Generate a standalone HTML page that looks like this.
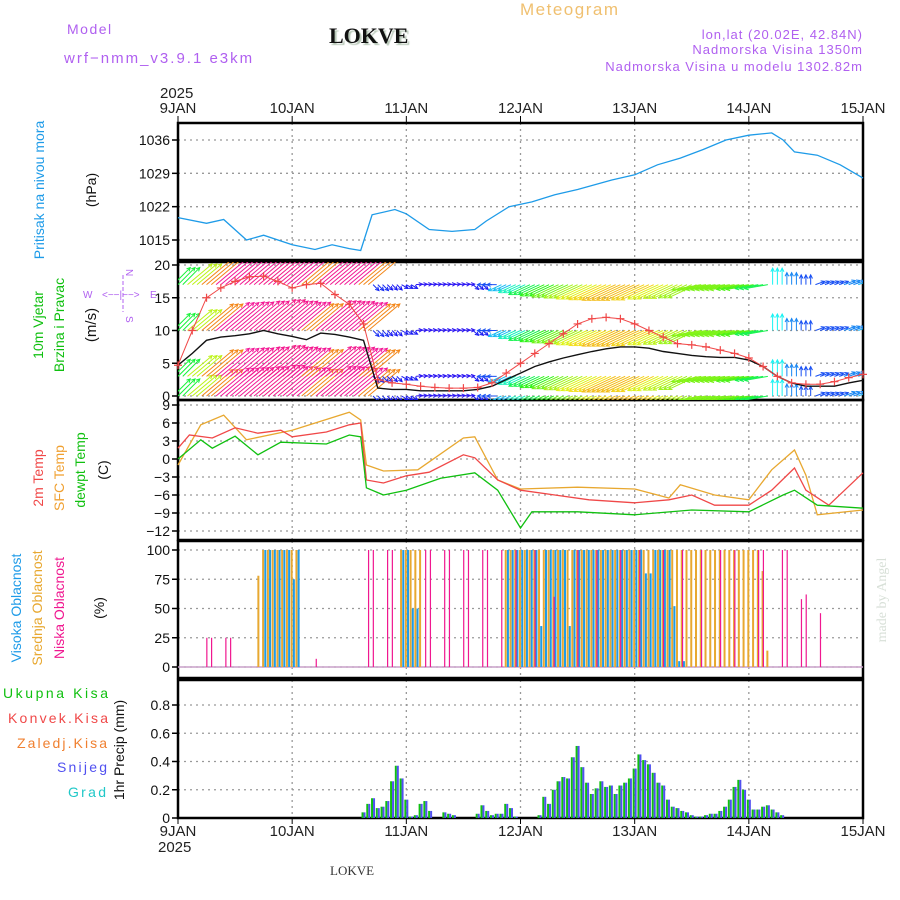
<!DOCTYPE html>
<html><head><meta charset="utf-8"><style>
html,body{margin:0;padding:0;background:#fff;}
svg{display:block;font-family:"Liberation Sans",sans-serif;}
</style></head><body>
<svg id="c" width="900" height="900" viewBox="0 0 900 900" xmlns="http://www.w3.org/2000/svg">
<defs>
<clipPath id="cp2"><rect x="178" y="262" width="685" height="138"/></clipPath>
<clipPath id="cp4"><rect x="178" y="541" width="685" height="137"/></clipPath>
</defs>
<text x="67" y="34" font-size="14" fill="#b060f0" letter-spacing="1.5">Model</text>
<text x="64" y="63" font-size="15" fill="#b060f0" letter-spacing="2">wrf−nmm_v3.9.1 e3km</text>
<text x="329" y="43" font-size="22" font-weight="bold" font-family="Liberation Serif,serif" fill="#111" style="text-shadow:2px 2px 1px #b8c8b8">LOKVE</text>
<text x="520" y="15" font-size="17" fill="#f0c070" letter-spacing="1.5">Meteogram</text>
<text x="863" y="39" font-size="13" fill="#b060f0" text-anchor="end" letter-spacing="1">lon,lat (20.02E, 42.84N)</text>
<text x="863" y="54" font-size="13" fill="#b060f0" text-anchor="end" letter-spacing="1">Nadmorska Visina 1350m</text>
<text x="863" y="71" font-size="13" fill="#b060f0" text-anchor="end" letter-spacing="1">Nadmorska Visina u modelu 1302.82m</text>
<text x="160" y="98" font-size="15" fill="#222">2025</text>
<text x="158" y="852" font-size="15" fill="#222">2025</text>
<text x="330" y="875" font-size="13" fill="#333" font-family="Liberation Serif,serif">LOKVE</text>
<text transform="translate(886,600) rotate(-90)" font-size="14" fill="#d8e0d8" text-anchor="middle" font-family="Liberation Serif,serif">made by Angel</text>

<g>
<text transform="translate(44,190) rotate(-90)" font-size="14" fill="#1e9be8" text-anchor="middle">Pritisak na nivou mora</text>
<text transform="translate(96,190) rotate(-90)" font-size="14" fill="#111" text-anchor="middle">(hPa)</text></g>
<g>
<text transform="translate(43,325) rotate(-90)" font-size="14" fill="#10c010" text-anchor="middle">10m Vjetar</text>
<text transform="translate(64,325) rotate(-90)" font-size="14" fill="#10c010" text-anchor="middle">Brzina i Pravac</text>
<text transform="translate(96,325) rotate(-90)" font-size="15" fill="#111" text-anchor="middle">(m/s)</text></g>
<g fill="#b060f0" font-size="10">
<text x="83" y="298">W</text><text x="150" y="298">E</text>
<text transform="translate(126,269) rotate(90)">N</text><text transform="translate(126,316) rotate(90)">S</text>
<text x="102" y="298">&lt;−−|−−&gt;</text>
<line x1="123" y1="275" x2="123" y2="312" stroke="#b060f0" stroke-dasharray="4 2"/></g>
<g>
<text transform="translate(43,478) rotate(-90)" font-size="14" fill="#f04848" text-anchor="middle">2m Temp</text>
<text transform="translate(64,478) rotate(-90)" font-size="14" fill="#f0a030" text-anchor="middle">SFC Temp</text>
<text transform="translate(85,470) rotate(-90)" font-size="14" fill="#10c010" text-anchor="middle">dewpt Temp</text>
<text transform="translate(108,470) rotate(-90)" font-size="14" fill="#111" text-anchor="middle">(C)</text></g>
<g>
<text transform="translate(21,608) rotate(-90)" font-size="14" fill="#1e9be8" text-anchor="middle">Visoka Oblacnost</text>
<text transform="translate(42,608) rotate(-90)" font-size="14" fill="#e8a830" text-anchor="middle">Srednja Oblacnost</text>
<text transform="translate(64,608) rotate(-90)" font-size="14" fill="#f01890" text-anchor="middle">Niska Oblacnost</text>
<text transform="translate(104,608) rotate(-90)" font-size="14" fill="#111" text-anchor="middle">(%)</text></g>
<g font-size="14">
<text x="3" y="698" fill="#10c010" textLength="105" lengthAdjust="spacing">Ukupna Kisa</text>
<text x="8" y="723" fill="#f04848" textLength="100" lengthAdjust="spacing">Konvek.Kisa</text>
<text x="17" y="748" fill="#f08030" textLength="90" lengthAdjust="spacing">Zaledj.Kisa</text>
<text x="57" y="772" fill="#5050f0" textLength="50" lengthAdjust="spacing">Snijeg</text>
<text x="68" y="797" fill="#20c8c8" textLength="38" lengthAdjust="spacing">Grad</text>
<text transform="translate(124,750) rotate(-90)" fill="#111" text-anchor="middle">1hr Precip (mm)</text></g>
<g id="g"></g>
</svg>
<script>
// ---- data ----
const dayLabels = ["9JAN","10JAN","11JAN","12JAN","13JAN","14JAN","15JAN"];
const presTicks = [1015,1022,1029,1036];
const windTicks = [0,5,10,15,20];
const tempTicks = [-12,-9,-6,-3,0,3,6,9];
const cloudTicks = [0,25,50,75,100];
const precipTicks = [0,0.2,0.4,0.6,0.8];

const presT = [0,0.25,0.4,0.6,0.75,1.0,1.2,1.35,1.5,1.6,1.7,1.9,2.0,2.2,2.4,2.6,2.7,2.9,3.1,3.3,3.5,3.8,4.0,4.2,4.4,4.6,4.8,5.0,5.2,5.3,5.4,5.6,5.8,6.0];
const presV = [1019.7,1018.5,1019.3,1015,1016,1014,1013,1014,1013.2,1012.8,1020.3,1021.4,1020.5,1017.2,1016.8,1017.2,1019,1022,1023,1024.5,1025.6,1027.6,1028.7,1030.8,1032.2,1034,1036,1037,1037.5,1036,1033.5,1032.8,1030.8,1028];

const t2T = [0,0.1,0.3,0.5,0.7,0.9,1.0,1.3,1.5,1.6,1.65,1.8,2.0,2.2,2.5,2.6,2.8,3.0,3.3,3.6,4.0,4.3,4.5,4.7,5.0,5.2,5.4,5.5,5.7,6.0];
const t2V = [1.8,4,3.5,5.2,4.3,4.8,3.7,4.5,5.7,6,-3.5,-4,-2.8,-2.2,0.7,0.2,-3.5,-5.2,-6,-6.8,-7.3,-6.8,-6,-7.7,-7.7,-5.2,-1.5,-5.2,-7.7,-2.3];
const sfcT = [0,0.2,0.4,0.6,1.0,1.5,1.6,1.65,1.8,2.1,2.5,2.6,2.8,3.0,3.5,4.0,4.3,4.4,4.7,5.0,5.2,5.4,5.5,5.6,6.0];
const sfcV = [-1,5.7,7.3,3.2,4.8,7.8,6.5,-1,-2,-1.8,3.5,3.7,-3.5,-5,-4.7,-5,-6.5,-4.3,-6,-6.8,-1.8,1.5,-2.7,-9.3,-8.5];
const dewT = [0,0.2,0.3,0.5,0.7,0.9,1.3,1.5,1.6,1.65,1.8,2.0,2.3,2.6,2.8,3.0,3.1,3.5,4.0,4.5,5.0,5.3,5.4,5.6,6.0];
const dewV = [0,3.2,1.8,3.8,0.7,2.8,2.5,4,3.7,-4.8,-6,-5.2,-3.2,-2.3,-5.2,-11.5,-8.8,-8.8,-9.3,-8.5,-8.8,-6,-5.2,-7.7,-8.2];

// 3-hourly wind (49 entries, 9JAN 00 .. 15JAN 00)
const windSpd = [4.7,6.5,8.5,9,9.2,9.5,10,9.5,9.1,8.6,9.6,9.4,9,8.5,1.2,1,1,0.8,0.8,0.8,0.8,1,1.5,2.5,3.5,4.5,5.2,5.8,6.3,6.8,7.2,7.5,7.5,7.3,6.8,6.5,6.2,6,5.9,5.9,5.5,4.5,3,2,1.5,1.5,1.5,2,2.4];
const windGust = [4.7,10,15,16.5,17.5,18.2,18.3,17.5,16.5,17,17.2,15.5,14,11,2.5,2,1.8,1.5,1.3,1.2,1.2,1.3,2,3.5,5,6.5,8,9.5,11,11.8,12,11.8,11,10,9,8,7.8,7.5,7,6.5,5.8,4.5,3,2,1.8,1.8,2.2,2.8,3.3];
const windDir = [45,40,40,40,40,40,40,40,40,40,40,40,40,40,-45,-45,-30,5,5,5,5,-40,180,205,205,205,205,205,205,205,205,205,205,205,205,205,205,190,190,190,190,190,90,90,90,20,20,20,20];
const barbRows = [17,10,3,0];

// clouds: hour index -> percent
const lowH = [6,7,10,11,29,40,41,44,45,52,53,56,57,60,61,64,65,68,71,75,79,84,88,93,97,102,106,110,114,117,122,123,127,128,131,132,135];
const lowV = [25,25,25,25,7,100,100,100,100,100,100,100,100,100,100,100,100,100,100,100,60,100,100,100,100,100,100,100,100,100,100,100,100,100,58,62,46];
const midH = [17,18,19,20,21,22,23,24,25,47,48,49,50,51,69,70,71,72,73,74,75,76,77,78,79,80,81,82,83,84,85,86,87,88,89,90,91,92,93,94,95,96,97,98,99,100,101,102,103,104,105,106,107,108,109,110,111,112,113,114,115,116,117,118,119,120,121,122,123,124];
const midV = [78,100,100,100,100,100,100,100,100,100,100,100,100,100,100,100,100,100,100,100,100,100,100,100,100,100,100,100,100,100,100,100,100,100,100,100,100,100,100,100,100,100,100,100,100,100,100,100,100,100,100,100,100,100,100,100,100,100,100,100,100,100,100,100,100,100,100,100,82,14,24];
const highH = [18,19,20,21,22,23,24,25,47,48,49,50,69,70,71,72,73,74,75,76,77,78,79,80,81,82,83,84,85,86,87,88,89,90,91,92,93,94,95,96,97,98,99,100,101,102,103,104,105,106];
const highV = [100,100,100,100,100,100,75,100,100,100,50,50,100,100,100,100,100,100,100,35,100,100,100,100,100,35,100,100,100,100,100,100,100,100,100,100,100,100,100,100,100,80,80,100,100,100,100,52,5,5];

// hourly precip starting at hour 39
const precipStart = 39;
const precipV = [0.04,0.1,0.14,0.07,0.08,0.12,0.26,0.37,0.28,0.13,0.01,0.02,0.1,0.12,0.05,0,0,0.04,0.03,0.02,0,0,0,0,0.03,0.09,0.05,0.02,0.03,0.03,0.1,0.07,0.01,0,0,0,0,0.02,0.15,0.1,0.2,0.26,0.29,0.28,0.43,0.51,0.36,0.25,0.17,0.21,0.26,0.22,0.23,0.17,0.23,0.25,0.28,0.35,0.45,0.41,0.38,0.32,0.25,0.23,0.13,0.08,0.07,0.05,0.04,0.02,0.01,0.01,0.02,0.03,0.03,0.05,0.08,0.13,0.22,0.27,0.2,0.13,0.06,0.06,0.08,0.09,0.06,0.04,0.02];
const snowV = precipV;

// ---- drawing ----
const NS="http://www.w3.org/2000/svg", G=document.getElementById('g');
function el(tag,attrs,parent){const e=document.createElementNS(NS,tag);for(const k in attrs)e.setAttribute(k,attrs[k]);(parent||G).appendChild(e);return e;}
const X0=178,X1=863;
const xDay=d=>X0+(X1-X0)*d/6;
const xHour=h=>xDay(h/24);
function lin(d0,d1,r0,r1){return v=>r0+(v-d0)*(r1-r0)/(d1-d0);}
const yP=lin(1036,1015,140,240), yW=lin(0,20,396,265), yT=lin(9,-12,405,531), yC=lin(0,100,667,550), yR=lin(0,0.8,818,705);
const panels=[{t:123,b:260,ticks:presTicks,y:yP,n:'pressure'},{t:262,b:400,ticks:windTicks,y:yW,n:'wind'},{t:400,b:540,ticks:tempTicks,y:yT,n:'temp'},{t:541,b:678,ticks:cloudTicks,y:yC,n:'cloud'},{t:680,b:818,ticks:precipTicks,y:yR,n:'precip'}];
panels.forEach(p=>{
  const g=el('g',{});
  
  
  for(let d=1;d<6;d++){const l=el('line',{x1:xDay(d),x2:xDay(d),y1:p.t,y2:p.b,stroke:'#999','stroke-dasharray':'2 4','stroke-width':1.3},g);}
  p.ticks.forEach(v=>{
    const y=p.y(v);
    const l=el('line',{x1:X0,x2:X1,y1:y,y2:y,stroke:'#999','stroke-dasharray':'2 4','stroke-width':1.3},g);
    
    el('line',{x1:X0-6,x2:X0,y1:y,y2:y,stroke:'#000','stroke-width':1.5},g);
    const t=el('text',{x:X0-8,y:y+5,'font-size':14,'text-anchor':'end',fill:'#111'},g);
    t.textContent=(v<0?'−'+(-v):String(v));
    
  });
  const r=el('rect',{x:X0,y:p.t,width:X1-X0,height:p.b-p.t,fill:'none',stroke:'#000','stroke-width':2.5},g);
  
});
dayLabels.forEach((s,i)=>{
  [[113,'top'],[836,'bottom']].forEach(([y,w])=>{
    const t=el('text',{x:xDay(i),y:y,'font-size':15,'text-anchor':'middle',fill:'#222'});
    t.textContent=s;
    
  });
  el('line',{x1:xDay(i),x2:xDay(i),y1:116,y2:123,stroke:'#000'});
  el('line',{x1:xDay(i),x2:xDay(i),y1:818,y2:824,stroke:'#000'});
});
function poly(ts,vs,yf,color,name,w){
  const pts=ts.map((t,i)=>xDay(t).toFixed(1)+','+yf(vs[i]).toFixed(1)).join(' ');
  const p=el('polyline',{points:pts,fill:'none',stroke:color,'stroke-width':w||1.3});
  
}
poly(presT,presV,yP,'#1e9be8','pressure-line',1.3);
poly(sfcT,sfcV,yT,'#e8a830','sfc-temp-line');
poly(t2T,t2V,yT,'#f04848','2m-temp-line');
poly(dewT,dewV,yT,'#10c010','dewpoint-line');

// wind
const wg=el('g',{'clip-path':'url(#cp2)'});

windSpd.forEach((s,i)=>{
  let hue=270-s*30; if(s>=9)hue=325+(s-9)*5; else if(hue<0)hue+=360;
  if(s>=8.5&&s<9)hue=30;
  const col='hsl('+hue+',90%,52%)';
  const a=windDir[i]*Math.PI/180, L=4.5*s+3;
  for(let k=-1;k<=1;k++){
    const x=xHour(i*3+k);
    barbRows.forEach(r=>{
      const y=yW(r), x2=x+L*Math.cos(a), y2=y-L*Math.sin(a);
      const ln=el('line',{x1:x,y1:y,x2:x2,y2:y2,stroke:col,'stroke-width':1},wg);
      
      const h=4,b1=a+Math.PI*0.85,b2=a-Math.PI*0.85;
      el('polyline',{points:`${x2+h*Math.cos(b1)},${y2-h*Math.sin(b1)} ${x2},${y2} ${x2+h*Math.cos(b2)},${y2-h*Math.sin(b2)}`,fill:'none',stroke:col,'stroke-width':1},wg);
    });
  }
});
const wt=windSpd.map((_,i)=>i/8);
poly(wt,windSpd,yW,'#111','wind-speed-line',1.4);
poly(wt,windGust,yW,'#f04848','wind-gust-line',1);
windGust.forEach((v,i)=>{
  const x=xDay(i/8),y=yW(v);
  const c=el('path',{d:`M${x-4},${y}h8M${x},${y-4}v8`,stroke:'#f04848','stroke-width':1.2});
  
});

// clouds
const cg=el('g',{'clip-path':'url(#cp4)'});

el('line',{x1:X0,x2:X1,y1:yC(0),y2:yC(0),stroke:'#c8a0c8','stroke-width':1.5},cg);
function cbars(H,V,off,w,col,name){H.forEach((h,i)=>{const y=yC(V[i]);const r=el('rect',{x:xHour(h)+off,y:y,width:w,height:yC(0)-y,fill:col},cg);});}
cbars(midH,midV,-1.5,2,'#e8a830','mid-cloud-bar');
cbars(highH,highV,0.7,2,'#1e9be8','high-cloud-bar');
cbars(lowH,lowV,-0.3,1.2,'#f01890','low-cloud-bar');

// precip
precipV.forEach((v,i)=>{
  if(v<=0)return;
  const x=xHour(precipStart+i),y=yR(v);
  const g1=el('rect',{x:x-2,y:y,width:2,height:818-y,fill:'#10c010'});
  
  const ys=yR(snowV[i]);
  const b=el('rect',{x:x,y:ys,width:2,height:818-ys,fill:'#5050f0'});
  
});
</script>
</body></html>
